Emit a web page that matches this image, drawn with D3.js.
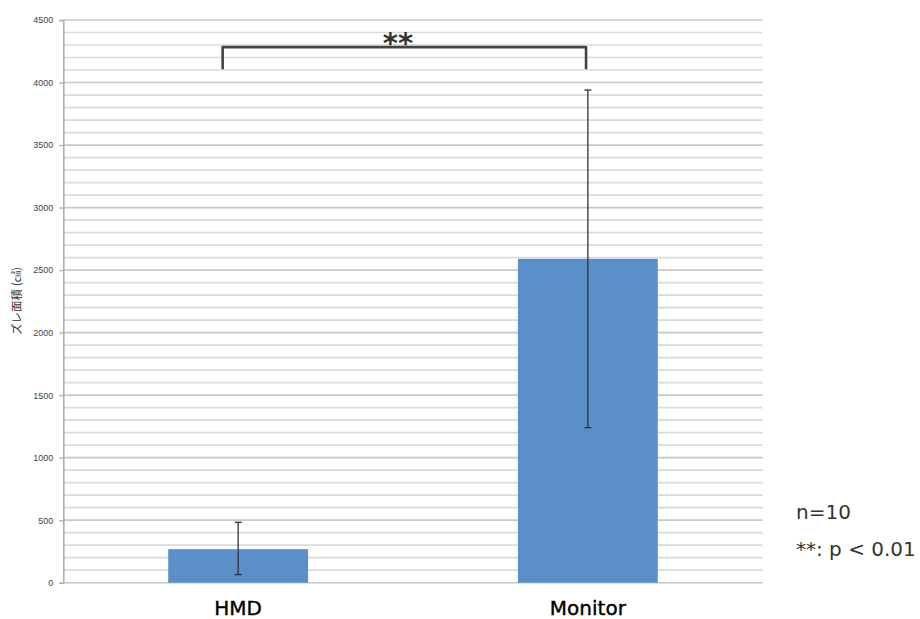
<!DOCTYPE html>
<html>
<head>
<meta charset="utf-8">
<script src="https://cdn.jsdelivr.net/npm/d3@7"></script>
<style>
  html, body { margin: 0; padding: 0; background: #fff; }
  svg { display: block; }
</style>
</head>
<body>
<svg id="chart" width="920" height="619"></svg>
<script>
// Chart data
const categories = ["HMD", "Monitor"];
const means = [268, 2590];
const errUpper = [215, 1350];
const errLower = [203, 1350];
const majorTicks = [0, 500, 1000, 1500, 2000, 2500, 3000, 3500, 4000, 4500];
const yTitle = "ズレ面積 (㎠)";
const sigLabel = "**";
const sigBracket = [4283, 4107]; // bracket top / leg bottom in data units
const notes = ["n=10", "**: p < 0.01"];

const svg = d3.select("#chart");
const margin = { left: 63.3, right: 157.3, top: 20, bottom: 36.3 };
const W = 920, H = 619;
const plotW = W - margin.left - margin.right;

const y = d3.scaleLinear().domain([0, 4500]).range([582.7, 20]);
const x = d3.scalePoint().domain(categories).range([margin.left, margin.left + plotW]).padding(0.5);
const barW = x.step() * 0.4;

// Gridlines (every 100, darker on the 500s)
const gridVals = d3.range(100, 4501, 100);
svg.append("g").selectAll("line").data(gridVals).join("line")
  .attr("x1", margin.left).attr("x2", margin.left + plotW)
  .attr("y1", d => y(d)).attr("y2", d => y(d))
  .attr("stroke", d => d % 500 === 0 ? "#c8c8c8" : "#dadada")
  .attr("stroke-width", 1.7);

// Y axis
const yAxis = d3.axisLeft(y).tickValues(majorTicks).tickSize(4).tickPadding(6).tickFormat(d3.format("d"));
const ga = svg.append("g").attr("transform", `translate(${margin.left},0)`).call(yAxis);
ga.select(".domain").attr("stroke", "#b0b0b0").attr("stroke-width", 1.6);
ga.selectAll(".tick line").attr("stroke", "#b0b0b0").attr("stroke-width", 1.4);
ga.selectAll(".tick text").attr("fill", "#444").style("font-family", "'Liberation Sans', sans-serif").style("font-size", "9px");

// Baseline
svg.append("line")
  .attr("x1", margin.left).attr("x2", margin.left + plotW)
  .attr("y1", y(0)).attr("y2", y(0))
  .attr("stroke", "#c4c4c4").attr("stroke-width", 1.6);

// Y title
svg.append("text")
  .attr("transform", `translate(21,301) rotate(-90)`)
  .attr("text-anchor", "middle")
  .attr("fill", "#333")
  .style("font-family", "'Noto Sans CJK JP', sans-serif")
  .style("font-size", "11.5px")
  .text(yTitle);

// Bars
svg.append("g").selectAll("rect").data(categories).join("rect")
  .attr("x", d => x(d) - barW / 2)
  .attr("width", barW)
  .attr("y", (d, i) => y(means[i]))
  .attr("height", (d, i) => y(0) - y(means[i]))
  .attr("fill", "#5a8fc9");

// Error bars
const eb = svg.append("g").attr("stroke", "#333").attr("stroke-width", 1.3);
categories.forEach((c, i) => {
  const cx = x(c);
  const hi = y(means[i] + errUpper[i]), lo = y(means[i] - errLower[i]);
  eb.append("line").attr("x1", cx).attr("x2", cx).attr("y1", hi).attr("y2", lo);
  eb.append("line").attr("x1", cx - 3.5).attr("x2", cx + 3.5).attr("y1", hi).attr("y2", hi);
  eb.append("line").attr("x1", cx - 3.5).attr("x2", cx + 3.5).attr("y1", lo).attr("y2", lo);
});

// Significance bracket
const bx1 = x(categories[0]) - 15.5, bx2 = x(categories[1]) - 1.8;
svg.append("path")
  .attr("d", `M${bx1},${y(sigBracket[1])} L${bx1},${y(sigBracket[0])} L${bx2},${y(sigBracket[0])} L${bx2},${y(sigBracket[1])}`)
  .attr("fill", "none").attr("stroke", "#444").attr("stroke-width", 2.6)
  .attr("stroke-linejoin", "round");
svg.append("text")
  .attr("x", 398)
  .attr("y", 53)
  .attr("text-anchor", "middle")
  .attr("fill", "#333")
  .style("font-family", "'DejaVu Sans', sans-serif")
  .style("font-weight", "bold")
  .style("font-size", "29px")
  .text(sigLabel);

// Category labels
svg.append("g").selectAll("text").data(categories).join("text")
  .attr("x", d => x(d)).attr("y", 615)
  .attr("text-anchor", "middle")
  .attr("fill", "#000")
  .style("font-family", "'DejaVu Sans', sans-serif")
  .style("font-size", "20px")
  .style("stroke", "#000")
  .style("stroke-width", "0.4px")
  .text(d => d);

// Notes
svg.append("g").selectAll("text").data(notes).join("text")
  .attr("x", 796).attr("y", (d, i) => 519 + i * 37)
  .attr("fill", "#333")
  .style("font-family", "'DejaVu Sans', sans-serif")
  .style("font-size", "20px")
  .text(d => d);
</script>
</body>
</html>
